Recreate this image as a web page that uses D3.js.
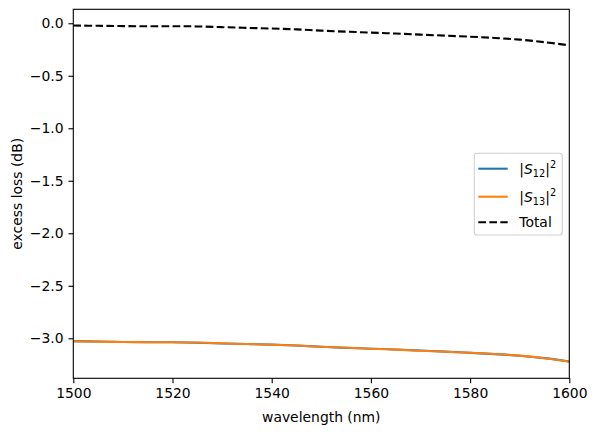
<!DOCTYPE html>
<html><head><meta charset="utf-8">
<script src="https://cdn.jsdelivr.net/npm/d3@7"></script>
<style>body{margin:0;background:#fff}text{font-family:"DejaVu Sans",sans-serif}</style>
</head><body><svg id="c" width="596" height="432"></svg>
<script>
const wavelength = [1500,1505,1510,1515,1520,1525,1530,1535,1540,1545,1550,1555,1560,1565,1570,1575,1580,1585,1590,1595,1600];
const s12 = [-3.027,-3.031,-3.035,-3.037,-3.038,-3.042,-3.049,-3.055,-3.060,-3.069,-3.081,-3.091,-3.099,-3.107,-3.117,-3.127,-3.139,-3.151,-3.166,-3.189,-3.221];
const s13 = [-3.029,-3.032,-3.035,-3.037,-3.037,-3.040,-3.048,-3.055,-3.061,-3.069,-3.080,-3.090,-3.099,-3.108,-3.118,-3.128,-3.138,-3.150,-3.165,-3.190,-3.223];
const total = [-0.022,-0.024,-0.027,-0.028,-0.028,-0.030,-0.037,-0.044,-0.050,-0.058,-0.070,-0.080,-0.089,-0.098,-0.108,-0.118,-0.128,-0.140,-0.156,-0.180,-0.210];
const xTicks = [1500,1520,1540,1560,1580,1600];
const yTicks = [0.0,-0.5,-1.0,-1.5,-2.0,-2.5,-3.0];

const svg = d3.select("#c");
const L=73.3, R=569.3, T=9.3, B=378.3;
const fs = 13.9;
const x = d3.scaleLinear().domain([1500,1600]).range([L,R]);
const y = d3.scaleLinear().domain([-3.381,0.133]).range([B,T]);

const line = arr => d3.line().x((d,i)=>x(wavelength[i])).y(d=>y(d)).curve(d3.curveCatmullRom)(arr);

const g = svg.append("g");
g.append("path").attr("d", line(s12)).attr("fill","none").attr("stroke","#1f77b4").attr("stroke-width",2.08);
g.append("path").attr("d", line(s13)).attr("fill","none").attr("stroke","#ff7f0e").attr("stroke-width",2.08);
g.append("path").attr("d", line(total)).attr("fill","none").attr("stroke","#000").attr("stroke-width",2.08).attr("stroke-dasharray","7.7,3.33");

const fmt = v => (v<0?"\u2212":"") + Math.abs(v).toFixed(1);
const xa = svg.append("g").attr("transform",`translate(0,${B})`)
  .call(d3.axisBottom(x).tickValues(xTicks).tickFormat(d3.format("d")).tickSize(4.86).tickPadding(4.86));
const ya = svg.append("g").attr("transform",`translate(${L},0)`)
  .call(d3.axisLeft(y).tickValues(yTicks).tickFormat(fmt).tickSize(4.86).tickPadding(4.86));
[xa,ya].forEach(a=>{
  a.select(".domain").remove();
  a.selectAll(".tick line").attr("stroke","#000").attr("stroke-width",1.1);
  a.selectAll(".tick text").attr("font-size",fs).attr("fill","#000").style("font-family","DejaVu Sans");
});
svg.append("rect").attr("x",L).attr("y",T).attr("width",R-L).attr("height",B-T)
  .attr("fill","none").attr("stroke","#000").attr("stroke-width",1.1);

svg.append("text").attr("x",(L+R)/2).attr("y",422).attr("text-anchor","middle").attr("font-size",fs).text("wavelength (nm)");
svg.append("text").attr("transform",`translate(22,${(T+B)/2}) rotate(-90)`).attr("text-anchor","middle").attr("font-size",fs).text("excess loss (dB)");

// legend
const lg = svg.append("g");
lg.append("rect").attr("x",474.3).attr("y",153.3).attr("width",88).attr("height",81.7).attr("rx",2.8)
  .attr("fill","#fff").attr("fill-opacity",0.8).attr("stroke","#d0d0d0").attr("stroke-width",1.1);
const items = [
  {c:"#1f77b4", dash:null, sub:"12", y:168.7},
  {c:"#ff7f0e", dash:null, sub:"13", y:196.7},
  {c:"#000", dash:"7.7,3.33", label:"Total", y:222.3}
];
items.forEach(it=>{
  const l = lg.append("line").attr("x1",478.3).attr("x2",507.7).attr("y1",it.y).attr("y2",it.y)
    .attr("stroke",it.c).attr("stroke-width",2.08);
  if(it.dash) l.attr("stroke-dasharray",it.dash);
  const t = lg.append("text").attr("x",519.3).attr("y",it.y+5).attr("font-size",fs);
  if(it.label){ t.text(it.label); }
  else {
    t.append("tspan").text("|");
    t.append("tspan").attr("font-style","italic").style("font-family","DejaVu Sans").text("S");
    t.append("tspan").attr("font-size",fs*0.7).attr("dy",3).text(it.sub);
    t.append("tspan").attr("dy",-3).text("|");
    t.append("tspan").attr("font-size",fs*0.7).attr("dy",-6).text("2");
  }
});
</script></body></html>
